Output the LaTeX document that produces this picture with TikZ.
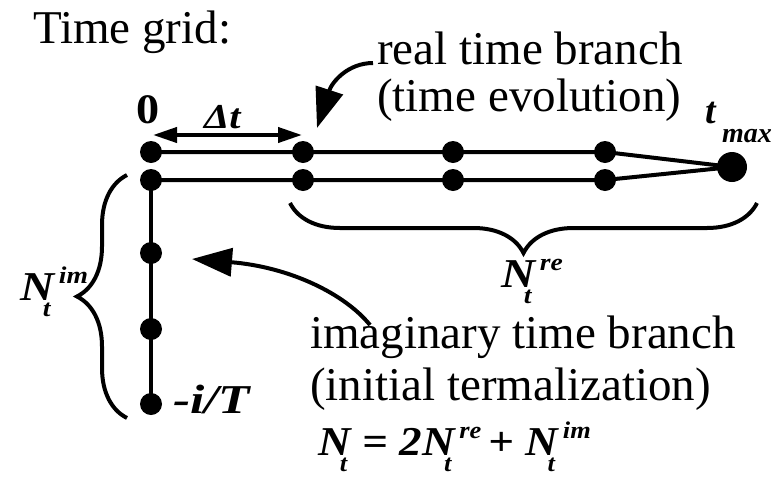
\documentclass[tikz,border=0pt]{standalone}
\usepackage{fontspec}
\usepackage{graphicx}
\setmainfont{Liberation Serif}
\usetikzlibrary{arrows.meta,decorations.pathreplacing}
\newcommand\supsubfont{\fontsize{24}{24}\selectfont}
\newcommand\NSS[2]{N\ooalign{\hspace{0.1em}\raisebox{0.4em}{\supsubfont #1}\cr\hspace{-0.24em}\raisebox{-0.4em}{\supsubfont #2}\cr}}
\newcommand\hs[2][1.15]{\scalebox{#1}[1]{#2}}
\tikzset{
  dot/.style={circle,fill=black,inner sep=0pt,minimum size=22pt},
  bigdot/.style={circle,fill=black,inner sep=0pt,minimum size=30pt},
  branch/.style={line width=4pt},
  txt/.style={inner sep=0pt,anchor=base west,font=\fontsize{47}{47}\selectfont},
  bi/.style={inner sep=0pt,anchor=base west,font=\fontsize{41}{41}\selectfont\bfseries\itshape},
  bracedeco/.style={line width=4pt,decorate,decoration={brace,amplitude=50pt}},
  bigarrow/.style={line width=4pt,-{Triangle[length=40pt,width=28pt]}},
  dblarrow/.style={line width=4pt,{Triangle[length=24pt,width=15pt]}-{Triangle[length=24pt,width=15pt]}}
}
\begin{document}
\begin{tikzpicture}[x=1pt,y=-1pt]
\useasboundingbox (0,0) rectangle (779,480);
% dots
\node[dot] (a0) at (151,152) {};
\node[dot] (a1) at (303,152) {};
\node[dot] (a2) at (453,152) {};
\node[dot] (a3) at (605,152) {};
\node[dot] (b0) at (151,180) {};
\node[dot] (b1) at (303,180) {};
\node[dot] (b2) at (453,180) {};
\node[dot] (b3) at (605,180) {};
\node[bigdot] (tm) at (732,167) {};
\node[dot] (c1) at (151,253) {};
\node[dot] (c2) at (151,329) {};
\node[dot] (c3) at (151,404) {};
% branches
\draw[branch] (a0.center) -- (a1.center) -- (a2.center) -- (a3.center) -- (tm.center);
\draw[branch] (b0.center) -- (b1.center) -- (b2.center) -- (b3.center) -- (tm.center);
\draw[branch] (b0.center) -- (c1.center) -- (c2.center) -- (c3.center);
% texts
\node[txt] (title) at (33,43) {Time grid:};
\node[inner sep=0pt,anchor=base,font=\fontsize{42}{42}\selectfont\bfseries] (zero) at (148,123) {\hs[1.1]{0}};
\node[inner sep=0pt,anchor=base west,font=\fontsize{35}{35}\selectfont\bfseries\itshape] (dt) at (204,128) {\hs{Δt}};
\coordinate (d0) at (153,135);
\coordinate (d1) at (302,135);
\draw[dblarrow] (d0) -- (d1);
\node[txt] (rt1) at (377,64) {real time branch};
\node[txt] (rt2) at (377,111) {(time evolution)};
\node[inner sep=0pt,anchor=base west,font=\fontsize{38}{38}\selectfont\bfseries\itshape] (tt) at (705,123) {t};
\node[inner sep=0pt,anchor=base west,font=\fontsize{28}{28}\selectfont\bfseries\itshape] (tmax) at (722,142) {max};
\node[txt] (it1) at (310,348) {imaginary time branch};
\node[txt] (it2) at (310,400) {(initial termalization)};
\node[bi] (form) at (318,455) {\hs[1.1]{\NSS{}{t}\,= 2\NSS{re}{t}\,+ \NSS{im}{t}}};
\node[bi] (nim) at (20,300) {\hs{\NSS{im}{t}}};
\node[bi] (nre) at (501,287) {\hs{\NSS{re}{t}}};
\node[bi] (iT) at (173,413) {\hs[1.25]{-i/T}};
% braces
\coordinate (lb1) at (127,418);
\coordinate (lb2) at (127,175);
\draw[bracedeco] (lb1) -- (lb2);
\coordinate (bb1) at (757,203);
\coordinate (bb2) at (290,203);
\draw[bracedeco] (bb1) -- (bb2);
% arrows
\coordinate (rtail) at (373,63);
\coordinate (rtip) at (317,128);
\draw[bigarrow] (rtail) .. controls (348,63) and (332,82) .. (rtip);
\coordinate (itail) at (370,325);
\coordinate (itip) at (192,259);
\draw[bigarrow] (itail) .. controls (345,294) and (290,267) .. (itip);
\end{tikzpicture}
\end{document}
